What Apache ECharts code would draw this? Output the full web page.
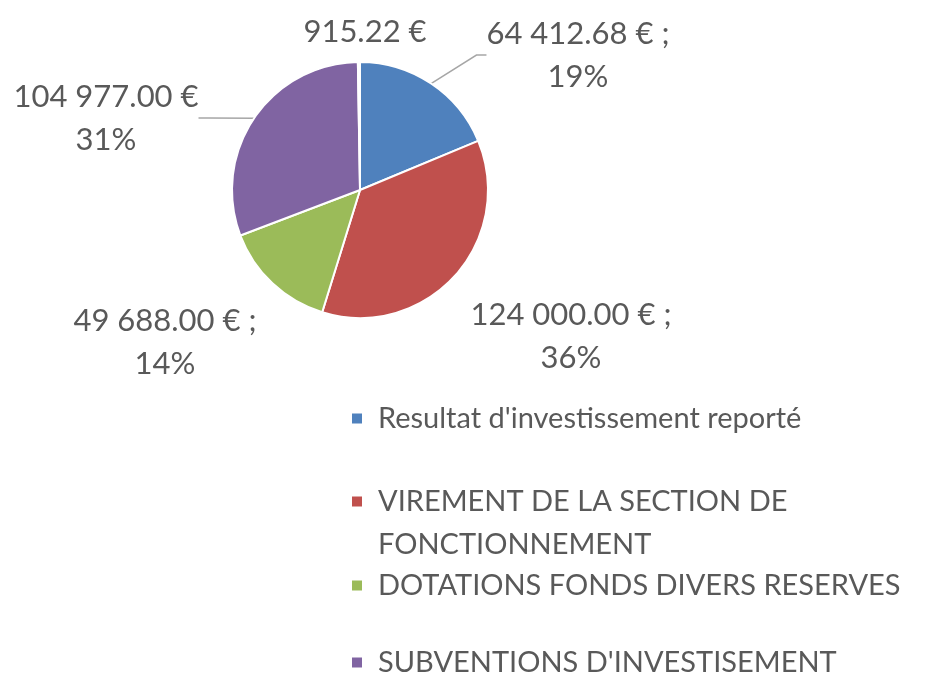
<!DOCTYPE html>
<html><head><meta charset="utf-8">
<script src="https://cdn.jsdelivr.net/npm/echarts@6/dist/echarts.min.js"></script>
<style>html,body{margin:0;padding:0;background:#fff}#c{width:925px;height:676px}</style>
</head><body><div id="c"></div>
<script>
var categories = ["Resultat d'investissement reporté", "VIREMENT DE LA SECTION DE FONCTIONNEMENT", "DOTATIONS FONDS DIVERS RESERVES", "SUBVENTIONS D'INVESTISEMENT", ""];
var values = [64412.68, 124000.00, 49688.00, 104977.00, 915.22];
var percentLabels = ["19%", "36%", "14%", "31%", ""];
var colors = ["#4F81BD", "#C0504D", "#9BBB59", "#8064A2", "#FFFFFF"];
var labelPos = [[578, 55], [571, 336], [165, 342], [106, 118], [365, 32]];
var labelSep = [" ;", " ;", " ;", "", ""];
var lineShow = [true, false, false, true, false];
var legendTop = [397, 479, 564, 641];

function fmt(v) {
  var s = v.toFixed(2).split('.');
  return s[0].replace(/\B(?=(\d{3})+(?!\d))/g, ' ') + '.' + s[1] + ' €';
}
var FONT = 'Lato';
var data = values.map(function (v, i) {
  return {
    name: categories[i] || ' ',
    value: v,
    itemStyle: { color: colors[i] },
    label: { formatter: fmt(v) + labelSep[i] + (percentLabels[i] ? '\n' + percentLabels[i] : '') },
    labelLine: { show: lineShow[i] }
  };
});
var tallIcon = 'path://M0,0h0.01v0.01h-0.01Z M0,15.5H12V27.5H0Z M0,85.99h0.01v0.01h-0.01Z';
var legends = categories.slice(0, 4).map(function (c, i) {
  var two = i === 1;
  return {
    data: [c], left: 350, top: legendTop[i], orient: 'vertical', padding: 0,
    icon: two ? tallIcon : 'rect', itemWidth: 12, itemHeight: two ? 86 : 12, selectedMode: false,
    formatter: function (n) { return n === categories[1] ? 'VIREMENT DE LA SECTION DE\nFONCTIONNEMENT' : n; },
    textStyle: { fontFamily: FONT, fontSize: 29, color: '#595959', lineHeight: 43, padding: [0, 0, 0, 10] }
  };
});
var chart = echarts.init(document.getElementById('c'));
chart.setOption({
  animation: false,
  color: colors,
  legend: legends,
  series: [{
    type: 'pie',
    center: [360, 190],
    radius: [0, 128],
    startAngle: 90,
    data: data,
    itemStyle: { borderColor: '#fff', borderWidth: 2 },
    label: { show: true, position: 'outside', fontFamily: FONT, fontSize: 31, color: '#595959', lineHeight: 43, align: 'center' },
    labelLine: { lineStyle: { color: '#A6A6A6', width: 1.5 }, length: 10, length2: 10 },
    labelLayout: function (p) {
      var pos = labelPos[p.dataIndex];
      return { x: pos[0], y: pos[1], align: 'center', verticalAlign: 'middle' };
    }
  }]
});
</script>
</body></html>
